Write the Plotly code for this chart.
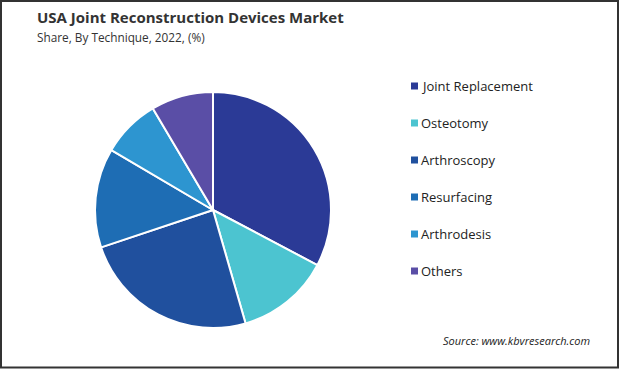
import plotly.graph_objects as go

categories = ["Joint Replacement", "Osteotomy", "Arthroscopy", "Resurfacing", "Arthrodesis", "Others"]
shares = [32.7, 12.8, 24.3, 13.6, 8.0, 8.5]
colors = ["#2B3A96", "#4CC4D0", "#20509E", "#1E6DB4", "#2D95D0", "#5A4EA6"]

W, H = 620, 369

fig = go.Figure()
fig.add_trace(go.Pie(
    labels=categories,
    values=shares,
    marker=dict(colors=colors, line=dict(color="white", width=2)),
    sort=False,
    direction="clockwise",
    rotation=0,
    textinfo="none",
    hoverinfo="label+percent",
    showlegend=False,
    domain=dict(x=[(213 - 118) / W, (213 + 118) / W], y=[1 - 328 / H, 1 - 92 / H]),
))

shapes = [dict(type="rect", xref="paper", yref="paper",
               x0=1 / W, x1=(W - 2) / W, y0=1.5 / H, y1=(H - 1) / H,
               line=dict(color="#333333", width=2), fillcolor="rgba(0,0,0,0)")]
annotations = [
    dict(text="<b>USA Joint Reconstruction Devices Market</b>", x=35 / W, y=1 - 17 / H,
         xref="paper", yref="paper", xanchor="left", yanchor="middle", showarrow=False,
         font=dict(family="Open Sans", size=15, color="#333333")),
    dict(text="Share, By Technique, 2022, (%)", x=35 / W, y=1 - 37 / H,
         xref="paper", yref="paper", xanchor="left", yanchor="middle", showarrow=False,
         font=dict(family="Open Sans", size=11.8, color="#333333")),
    dict(text="<i>Source: www.kbvresearch.com</i>", x=592 / W, y=1 - 340 / H,
         xref="paper", yref="paper", xanchor="right", yanchor="middle", showarrow=False,
         font=dict(family="Open Sans", size=11, color="#222222")),
]

y0 = 86
step = 37
for i, (cat, col) in enumerate(zip(categories, colors)):
    yc = y0 + i * step
    shapes.append(dict(type="rect", xref="paper", yref="paper",
                       x0=411 / W, x1=418 / W, y0=1 - (yc + 3.5) / H, y1=1 - (yc - 3.5) / H,
                       line=dict(width=0), fillcolor=col))
    annotations.append(dict(text=cat, x=419 / W, y=1 - yc / H, xref="paper", yref="paper",
                            xanchor="left", yanchor="middle", showarrow=False,
                            font=dict(family="Open Sans", size=13, color="#222222")))

fig.update_layout(
    width=W, height=H,
    margin=dict(l=0, r=0, t=0, b=0),
    paper_bgcolor="white",
    plot_bgcolor="white",
    shapes=shapes,
    annotations=annotations,
)

fig.write_html("out.html", config={"displayModeBar": False},
               post_script="document.body.style.margin='0';document.body.style.padding='0';")
